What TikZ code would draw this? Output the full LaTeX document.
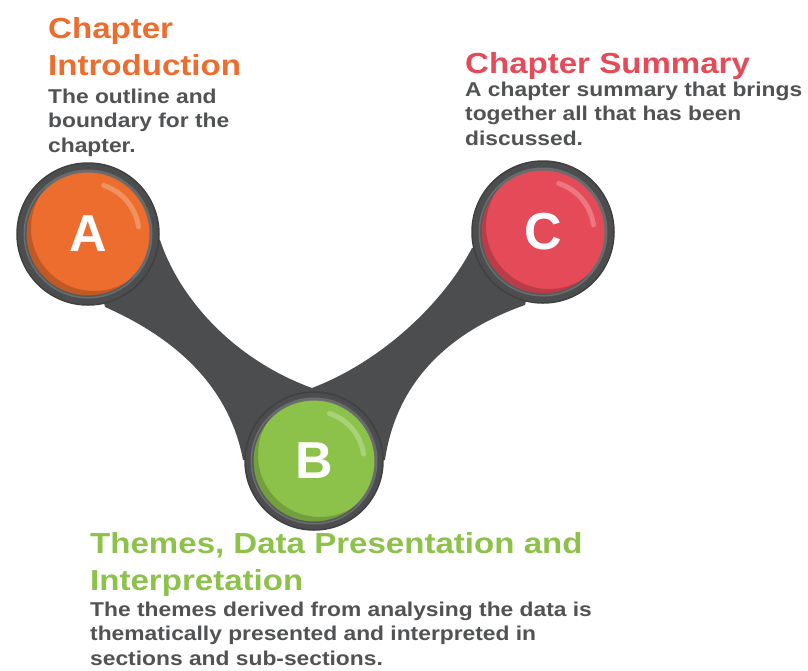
\documentclass[tikz,border=0pt]{standalone}
\usepackage{fontspec}
\setmainfont{Liberation Sans}
\newfontfamily\ttlfont[FakeStretch=1.14, WordSpace=0.75]{Liberation Sans}
\newfontfamily\txtfont[FakeStretch=1.14]{Liberation Sans}
\definecolor{band}{HTML}{4B4D4F}
\definecolor{rim}{HTML}{6B6D6F}
\definecolor{orng}{HTML}{EC6D2D}
\definecolor{rd}{HTML}{E54A58}
\definecolor{grn}{HTML}{8DC24A}
\definecolor{txtgray}{HTML}{505254}
\tikzset{
  ttl/.style={anchor=base west, inner sep=0pt, font=\ttlfont\bfseries\fontsize{29}{37}\selectfont, align=left},
  txt/.style={anchor=base west, inner sep=0pt, text=txtgray, font=\txtfont\bfseries\fontsize{20}{24.5}\selectfont, align=left},
  letter/.style={text=white, font=\bfseries\fontsize{52}{52}\selectfont}
}
\begin{document}
\begin{tikzpicture}[x=1pt, y=-1pt]
\useasboundingbox (0,0) rectangle (808,670);

\coordinate (a) at (88,234);
\coordinate (b) at (314,461);
\coordinate (c) at (543,232);

% the V shaped band
\fill[band] (a) -- (160,240) .. controls (180,300) and (235,360) .. (312,388)
  .. controls (385,360) and (445,300) .. (472,248) -- (c)
  -- (525,305) .. controls (440,335) and (395,390) .. (385,460) -- (b)
  -- (243,460) .. controls (230,390) and (180,340) .. (105,307) -- cycle;

\def\outerA{(a) circle (71)}
\def\outerB{(b) circle (69)}
\def\outerC{(c) circle (71)}
\def\innerA{(a) circle (63)}
\def\innerB{(b) circle (62)}
\def\innerC{(c) circle (63)}

\fill[band, draw=black!75, line width=1.5pt] \outerA;
\fill[band, draw=black!75, line width=1.5pt] \outerB;
\fill[band, draw=black!75, line width=1.5pt] \outerC;

\fill[orng, draw=rim, line width=3pt] \innerA;
\fill[grn, draw=rim, line width=3pt] \innerB;
\fill[rd, draw=rim, line width=3pt] \innerC;

\begin{scope}
\clip \innerA;
\fill[black, opacity=.18, even odd rule] \innerA ([shift={(6,-6)}]a) circle (63);
\end{scope}
\begin{scope}
\clip \innerB;
\fill[black, opacity=.18, even odd rule] \innerB ([shift={(6,-6)}]b) circle (62);
\end{scope}
\begin{scope}
\clip \innerC;
\fill[black, opacity=.18, even odd rule] \innerC ([shift={(6,-6)}]c) circle (63);
\end{scope}

% highlights
\draw[white, opacity=.25, line width=5pt, line cap=round] (a) ++(-8:51) arc[start angle=-8, end angle=-72, radius=51];
\draw[white, opacity=.25, line width=5pt, line cap=round] (b) ++(-8:50) arc[start angle=-8, end angle=-72, radius=50];
\draw[white, opacity=.25, line width=5pt, line cap=round] (c) ++(-8:51) arc[start angle=-8, end angle=-72, radius=51];

\node[letter] (la) at (a) {A};
\node[letter] (lb) at (b) {B};
\node[letter] (lc) at (c) {C};

\node[ttl, text=orng] (ta) at (48,75) {Chapter\\Introduction};
\node[txt] (da) at (48,152) {The outline and\\boundary for the\\chapter.};

\node[ttl, text=rd] (tc) at (465,73) {Chapter Summary};
\node[txt] (dc) at (465,145) {A chapter summary that brings\\together all that has been\\discussed.};

\node[ttl, text=grn] (tb) at (90,590) {Themes, Data Presentation and\\Interpretation};
\node[txt] (db) at (90,665) {The themes derived from analysing the data is\\thematically presented and interpreted in\\sections and sub-sections.};
\end{tikzpicture}
\end{document}
